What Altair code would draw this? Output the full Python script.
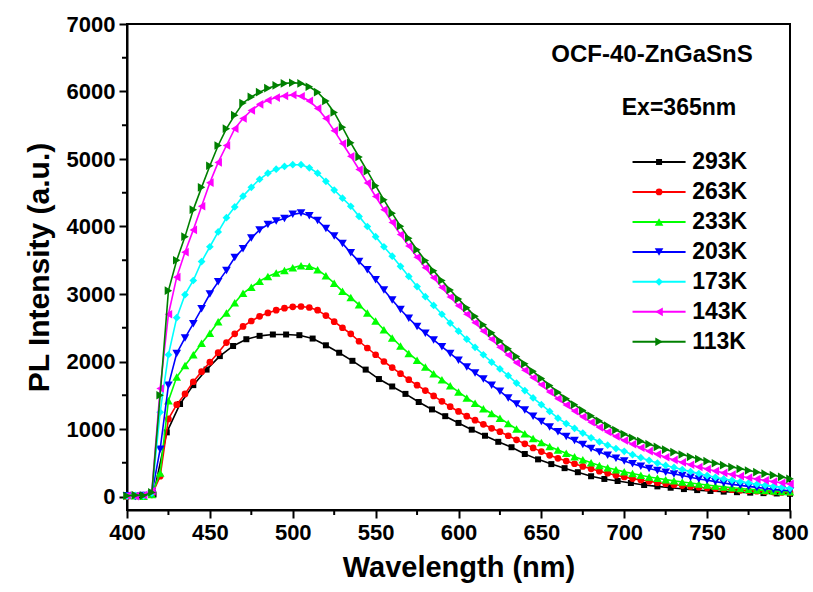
import altair as alt
import pandas as pd

# ---------------- data ----------------
wavelength = list(range(400, 805, 5))          # 5 nm sampling
wavelength_293 = list(range(400, 808, 8))      # 8 nm sampling for 293K

i_293K = [5, 15, 30, 950, 1370, 1650, 1880, 2080, 2230, 2330, 2380, 2400, 2400,
          2390, 2340, 2240, 2130, 2010, 1880, 1740, 1630, 1520, 1400, 1290, 1190,
          1090, 990, 900, 810, 730, 630, 550, 480, 420, 360, 300, 260, 230, 200,
          170, 150, 130, 110, 95, 82, 72, 64, 57, 50, 45, 40]

i_263K = [0, 10, 20, 25, 300, 1150, 1360, 1520, 1700, 1850, 1990, 2130, 2280, 2410,
          2520, 2600, 2670, 2720, 2760, 2790, 2810, 2815, 2800, 2760, 2680, 2590,
          2500, 2410, 2300, 2200, 2100, 2000, 1910, 1820, 1730, 1650, 1570, 1490,
          1410, 1330, 1260, 1190, 1130, 1070, 1010, 960, 900, 840, 780, 720, 665,
          610, 565, 525, 485, 445, 410, 375, 345, 315, 290, 265, 245, 225, 205, 190,
          175, 162, 150, 138, 127, 117, 108, 100, 92, 85, 78, 72, 66, 61, 56]

i_233K = [20, 10, 5, 30, 350, 1420, 1770, 1940, 2100, 2270, 2420, 2590, 2720, 2870,
          3010, 3100, 3190, 3260, 3310, 3350, 3390, 3420, 3410, 3360, 3270, 3160,
          3040, 2950, 2840, 2720, 2600, 2470, 2350, 2230, 2120, 2020, 1920, 1820,
          1730, 1640, 1550, 1460, 1380, 1300, 1230, 1160, 1080, 1000, 930, 860, 800,
          740, 690, 640, 590, 545, 500, 460, 425, 395, 365, 340, 315, 290, 270, 250,
          232, 215, 200, 185, 170, 155, 142, 130, 118, 108, 98, 90, 82, 75, 70]

i_203K = [10, 0, 15, 40, 700, 1650, 2120, 2350, 2560, 2780, 3000, 3180, 3350, 3540,
          3670, 3830, 3950, 4030, 4080, 4120, 4180, 4200, 4160, 4090, 3970, 3860,
          3750, 3610, 3480, 3360, 3210, 3060, 2910, 2770, 2640, 2520, 2420, 2320,
          2220, 2120, 2020, 1920, 1830, 1740, 1650, 1560, 1460, 1370, 1280, 1190,
          1110, 1030, 960, 890, 830, 770, 710, 660, 610, 565, 525, 485, 450, 415,
          385, 360, 335, 310, 285, 260, 240, 220, 200, 180, 165, 150, 135, 120, 105,
          95, 85]

i_173K = [5, 15, 10, 50, 1250, 2100, 2650, 2990, 3200, 3480, 3700, 3920, 4130, 4290,
          4450, 4580, 4700, 4790, 4850, 4890, 4915, 4915, 4870, 4790, 4670, 4540,
          4420, 4300, 4150, 4000, 3850, 3700, 3560, 3410, 3260, 3110, 2960, 2830,
          2700, 2570, 2450, 2330, 2210, 2100, 1990, 1890, 1790, 1680, 1570, 1460,
          1360, 1260, 1160, 1080, 1010, 940, 870, 810, 760, 710, 670, 620, 575, 535,
          495, 460, 430, 400, 370, 340, 310, 285, 260, 240, 220, 200, 180, 165, 150,
          135, 122]

i_143K = [15, 5, 20, 80, 1600, 2700, 3250, 3620, 3950, 4300, 4650, 4950, 5200, 5450,
          5600, 5720, 5810, 5870, 5910, 5935, 5950, 5930, 5860, 5750, 5600, 5420,
          5230, 5040, 4845, 4645, 4445, 4250, 4060, 3880, 3710, 3545, 3390, 3240,
          3095, 2955, 2825, 2700, 2575, 2450, 2330, 2210, 2095, 1980, 1870, 1760,
          1655, 1550, 1450, 1355, 1265, 1180, 1100, 1025, 955, 890, 830, 775, 722,
          672, 625, 582, 542, 505, 470, 437, 406, 377, 350, 325, 301, 279, 258, 238,
          220, 203, 187]

i_113K = [10, 20, 15, 60, 1500, 3050, 3500, 3850, 4250, 4580, 4900, 5200, 5450, 5650,
          5830, 5920, 5990, 6050, 6090, 6120, 6130, 6120, 6070, 5990, 5860, 5690,
          5470, 5240, 5030, 4820, 4605, 4395, 4195, 4005, 3825, 3655, 3495, 3345,
          3200, 3060, 2925, 2795, 2670, 2545, 2425, 2305, 2190, 2075, 1965, 1855,
          1750, 1645, 1545, 1450, 1360, 1275, 1195, 1120, 1050, 985, 925, 870, 820,
          775, 735, 695, 658, 622, 588, 555, 523, 493, 464, 436, 410, 385, 361, 338,
          316, 290, 262]

series_names = ["293K", "263K", "233K", "203K", "173K", "143K", "113K"]
series_values = [i_293K, i_263K, i_233K, i_203K, i_173K, i_143K, i_113K]
series_x = [wavelength_293] + [wavelength] * 6
series_colors = ["#000000", "#FF0000", "#00FF00", "#0000FF", "#00FFFF", "#FF00FF", "#008000"]
series_shapes = ["square", "circle", "triangle-up", "triangle-down", "diamond",
                 "triangle-left", "triangle-right"]
series_sizes = [36, 45, 75, 75, 60, 75, 75]

x_ticks = [400, 450, 500, 550, 600, 650, 700, 750, 800]
x_minor = [425, 475, 525, 575, 625, 675, 725, 775]
y_ticks = [0, 1000, 2000, 3000, 4000, 5000, 6000, 7000]
y_minor = [500, 1500, 2500, 3500, 4500, 5500, 6500]

sample_name = "OCF-40-ZnGaSnS"
excitation = "Ex=365nm"

# legend layout (in data units)
leg_line = (705, 737)
leg_marker = 721
leg_text = 741
leg_top = 4956
leg_step = 444

# ---------------- chart ----------------
FONT = "Liberation Sans"
W, H = 663, 486

xscale = alt.Scale(domain=[400, 800], nice=False, zero=False)
xaxis = alt.Axis(values=x_ticks, title="Wavelength (nm)", format="d",
                 titlePadding=10, labelPadding=4, titleFontSize=29)
X = alt.X("wl:Q", scale=xscale, axis=xaxis)
Y = alt.Y("I:Q", scale=alt.Scale(domain=[-200, 7000], nice=False, zero=False),
          axis=alt.Axis(values=y_ticks, title="PL Intensity (a.u.)", format="d",
                        titlePadding=12, labelPadding=4, titleFontSize=30))

layers = []
for name, xs, vals, col, shp, sz in zip(series_names, series_x, series_values,
                                        series_colors, series_shapes, series_sizes):
    d = pd.DataFrame({"wl": xs, "I": vals, "T": name})
    base = alt.Chart(d)
    layers.append(base.mark_line(color=col, strokeWidth=1.6).encode(x=X, y=Y))
    layers.append(base.mark_point(color=col, filled=True, opacity=1, shape=shp,
                                  size=sz).encode(x=X, y=Y))

# minor ticks
layers.append(alt.Chart(pd.DataFrame({"wl": x_minor})).mark_rule(
    color="black", strokeWidth=2).encode(x=X, y=alt.value(H), y2=alt.value(H + 5)))
layers.append(alt.Chart(pd.DataFrame({"I": y_minor})).mark_rule(
    color="black", strokeWidth=2).encode(y=Y, x=alt.value(0), x2=alt.value(-5)))

# legend
for k, (name, col, shp, sz) in enumerate(zip(series_names, series_colors,
                                             series_shapes, series_sizes)):
    yk = leg_top - leg_step * k
    ld = pd.DataFrame({"wl": [leg_line[0]], "wl2": [leg_line[1]], "I": [yk],
                       "wm": [leg_marker], "wt": [leg_text], "T": [name]})
    lb = alt.Chart(ld)
    layers.append(lb.mark_rule(color=col, strokeWidth=2).encode(
        x=X, x2="wl2:Q", y=Y))
    layers.append(lb.mark_point(color=col, filled=True, opacity=1, shape=shp,
                                size=sz).encode(
        x=alt.X("wm:Q", scale=xscale, axis=xaxis), y=Y))
    layers.append(lb.mark_text(align="left", baseline="middle", font=FONT,
                               fontWeight="bold", fontSize=23, color="black").encode(
        x=alt.X("wt:Q", scale=xscale, axis=xaxis), y=Y, text="T:N"))

# annotations
ann = alt.Chart(pd.DataFrame({"t": [sample_name]})).mark_text(
    align="center", baseline="middle", font=FONT, fontWeight="bold", fontSize=24,
    color="black").encode(x=alt.value(525), y=alt.value(31), text="t:N")
ann2 = alt.Chart(pd.DataFrame({"t": [excitation]})).mark_text(
    align="center", baseline="middle", font=FONT, fontWeight="bold", fontSize=23,
    color="black").encode(x=alt.value(552), y=alt.value(84), text="t:N")
layers += [ann, ann2]

chart = alt.layer(*layers).properties(
    width=W, height=H,
    padding={"left": 127, "top": 24, "right": 23, "bottom": 82},
    autosize=alt.AutoSizeParams(type="none"),
    background="white",
).configure_view(
    stroke="black", strokeWidth=2
).configure_axis(
    grid=False, domainColor="black", domainWidth=2, tickColor="black",
    tickWidth=2, tickSize=8, labelFont=FONT, labelFontSize=22,
    labelFontWeight="bold", labelColor="black", labelFlush=False,
    labelOverlap=False, titleFont=FONT, titleFontWeight="bold",
    titleColor="black"
)

chart.save("out.html", embed_options={"renderer": "svg", "actions": False})
